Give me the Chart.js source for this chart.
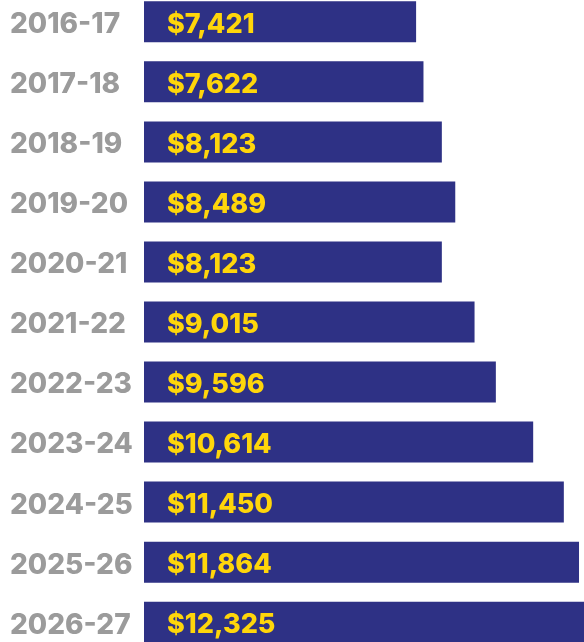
<!DOCTYPE html>
<html>
<head>
<meta charset="utf-8">
<script src="https://cdn.jsdelivr.net/npm/chart.js@4"></script>
<style>
  html, body { margin: 0; padding: 0; background: #ffffff; overflow: hidden; }
  body { width: 584px; height: 642px; position: relative; }
  #wrap { position: absolute; left: 0; top: -25px; width: 584px; height: 694px; }
</style>
</head>
<body>
<div id="wrap"><canvas id="c"></canvas></div>
<script>
const categories = ["2016-17", "2017-18", "2018-19", "2019-20", "2020-21", "2021-22", "2022-23", "2023-24", "2024-25", "2025-26", "2026-27"];
const values = [7421, 7622, 8123, 8489, 8123, 9015, 9596, 10614, 11450, 11864, 12325];

const FONT_FAMILY = "Inter, 'Liberation Sans', Arial, sans-serif";
const BAR_COLOR = "#2e3185";
const VALUE_COLOR = "#ffd60a";
const LABEL_COLOR = "#9b9b9b";

const valueLabels = {
  id: "valueLabels",
  afterDatasetsDraw(chart) {
    const ctx = chart.ctx;
    const meta = chart.getDatasetMeta(0);
    ctx.save();
    ctx.font = "800 27px " + FONT_FAMILY;
    ctx.fillStyle = VALUE_COLOR;
    ctx.textAlign = "left";
    ctx.textBaseline = "middle";
    meta.data.forEach((bar, i) => {
      const txt = "$" + values[i].toLocaleString("en-US");
      ctx.fillText(txt, bar.base + 23, bar.y + 3);
    });
    ctx.restore();
  }
};

new Chart(document.getElementById("c"), {
  type: "bar",
  data: {
    labels: categories,
    datasets: [{
      data: values,
      backgroundColor: BAR_COLOR,
      borderWidth: 0,
      barPercentage: 0.683,
      categoryPercentage: 1
    }]
  },
  options: {
    indexAxis: "y",
    responsive: true,
    maintainAspectRatio: false,
    animation: false,
    layout: { padding: { left: 10, right: 0, top: 0, bottom: 0 } },
    plugins: { legend: { display: false }, tooltip: { enabled: false } },
    scales: {
      x: { display: false, min: 0, max: 12000 },
      y: {
        grid: { display: false },
        border: { display: false },
        afterFit(scale) { scale.width = 134; },
        ticks: {
          crossAlign: "far",
          padding: 0,
          labelOffset: 3,
          color: LABEL_COLOR,
          font: { family: FONT_FAMILY, size: 28, weight: 800, lineHeight: 1.2 }
        }
      }
    }
  },
  plugins: [valueLabels]
});
</script>
</body>
</html>
